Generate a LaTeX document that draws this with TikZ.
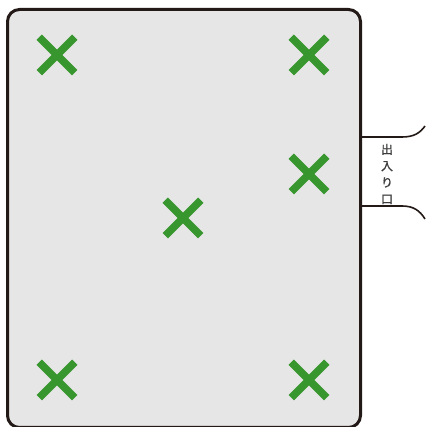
\documentclass[tikz,border=0pt]{standalone}
\usepackage{fontspec}
\newfontfamily\jpfont[FakeBold=1]{Noto Sans CJK JP}
\usetikzlibrary{shapes.misc}
\definecolor{crossgreen}{RGB}{56,150,46}
\definecolor{roomgray}{RGB}{230,230,230}
\definecolor{wallc}{RGB}{35,25,22}
\definecolor{textgray}{RGB}{60,60,60}
\tikzset{
  mark x/.style={cross out, draw=crossgreen, line width=7.5pt, minimum size=28pt, inner sep=0pt},
  wall/.style={draw=wallc, line width=3pt},
  doorline/.style={draw=wallc, line width=1.6pt}
}
\begin{document}
\begin{tikzpicture}[x=1pt,y=-1pt]
\useasboundingbox (0,0) rectangle (429,427);
\node[wall, fill=roomgray, rounded corners=12pt, minimum width=353pt, minimum height=418pt, inner sep=0pt, anchor=north west] (room) at (6,8) {};
\node[mark x] (x1) at (57,55) {};
\node[mark x] (x2) at (309,55) {};
\node[mark x] (x3) at (309,174) {};
\node[mark x] (x4) at (183,218) {};
\node[mark x] (x5) at (57,380) {};
\node[mark x] (x6) at (309,380) {};
\coordinate (d1) at (359,137);
\coordinate (d2) at (359,206);
\draw[doorline] (d1) -- (402,137) .. controls (414,137) and (420,133) .. (425,126);
\draw[doorline] (d2) -- (402,206) .. controls (414,206) and (420,211) .. (425,219);
\node[text=textgray, font=\jpfont\fontsize{12}{16.5}\selectfont, align=center, inner sep=0pt] (lbl) at (387,174) {出\\入\\り\\口};
\end{tikzpicture}
\end{document}
